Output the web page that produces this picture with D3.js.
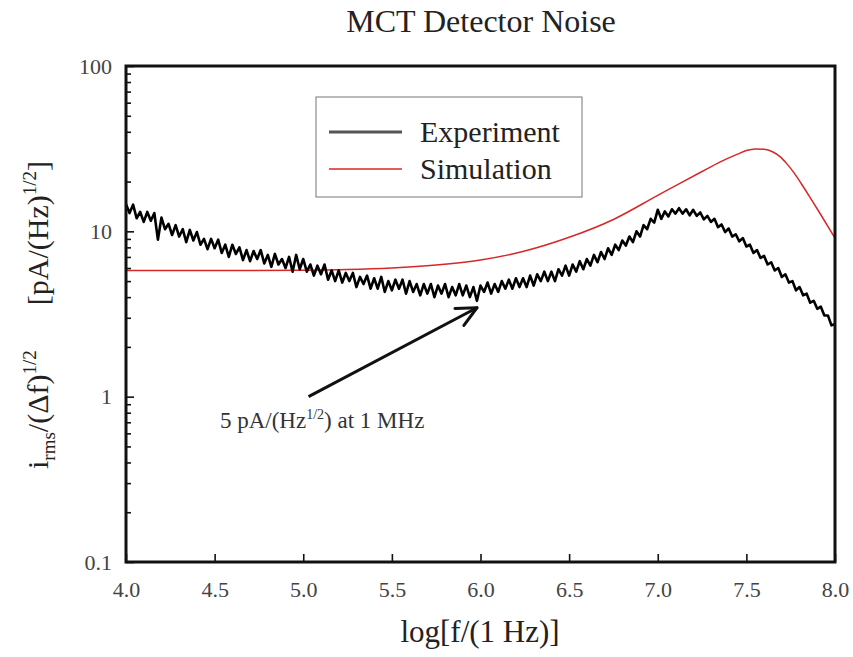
<!DOCTYPE html>
<html>
<head>
<meta charset="utf-8">
<script src="https://cdn.jsdelivr.net/npm/d3@7"></script>
<style>
  html, body { margin: 0; padding: 0; background: #fff; }
  svg { display: block; font-family: "Liberation Serif", "DejaVu Serif", serif; }
</style>
</head>
<body>
<svg id="chart" width="853" height="657"></svg>
<script>
// MCT detector noise: experiment vs simulation (log-log style)

// log10 of frequency, experiment sampled every 0.02
const expStart = 4.0;
const expStep = 0.02;
const expValues = [
  14.6, 12.9, 14.5, 12.0, 13.1,
  11.4, 13.1, 11.6, 12.9, 8.9,
  12.1, 10.3, 11.1, 9.5, 10.9,
  9.3, 10.3, 8.6, 10.2, 8.8,
  9.9, 8.3, 9.0, 7.8, 9.0,
  7.9, 8.9, 7.4, 8.3, 7.0,
  8.3, 7.3, 8.0, 6.7, 7.7,
  6.6, 7.6, 6.8, 7.7, 6.4,
  7.2, 6.1, 7.3, 6.3, 6.8,
  6.0, 7.0, 5.7, 7.2, 5.9,
  6.8, 5.7, 6.3, 5.4, 6.2,
  5.5, 6.3, 5.1, 5.8, 5.0,
  5.8, 4.9, 5.6, 5.0, 5.6,
  4.6, 5.3, 4.8, 5.4, 4.5,
  5.2, 4.5, 5.3, 4.3, 5.0,
  4.4, 5.1, 4.5, 5.1, 4.2,
  5.0, 4.3, 4.8, 4.1, 4.8,
  4.2, 4.8, 4.0, 4.7, 4.2,
  4.8, 4.0, 4.6, 4.1, 4.8,
  4.1, 4.7, 4.0, 4.6, 3.8,
  4.7, 4.3, 4.9, 4.2, 4.8,
  4.3, 5.0, 4.5, 5.1, 4.5,
  5.2, 4.6, 5.2, 4.6, 5.4,
  4.7, 5.5, 5.0, 5.7, 5.0,
  5.7, 5.0, 5.9, 5.4, 6.2,
  5.4, 6.3, 5.7, 6.6, 5.9,
  6.8, 6.2, 7.2, 6.5, 7.5,
  6.8, 7.9, 7.2, 8.3, 7.7,
  8.8, 8.2, 9.3, 8.6, 10.0,
  9.3, 10.9, 10.3, 11.9, 11.3,
  13.5, 11.9, 13.2, 12.3, 13.6,
  12.8, 13.8, 12.8, 13.6, 12.5,
  13.5, 12.4, 13.0, 11.8, 12.4,
  11.4, 11.9, 10.6, 11.0, 9.9,
  10.4, 9.3, 9.6, 8.7, 9.1,
  8.1, 8.3, 7.4, 7.7, 6.9,
  7.1, 6.3, 6.5, 5.8, 6.0,
  5.3, 5.5, 4.9, 5.0, 4.4,
  4.6, 4.1, 4.2, 3.7, 3.8,
  3.4, 3.5, 3.1, 3.1, 2.7,
  2.75
];

const simX = [4.0, 4.5, 5.0, 5.25, 5.5, 5.75, 6.0, 6.25, 6.5, 6.75, 7.0, 7.125,
  7.25, 7.35, 7.45, 7.5, 7.55, 7.6, 7.65, 7.69, 7.73, 7.77, 7.81, 7.86, 7.92, 8.0];
const simValues = [5.8, 5.8, 5.82, 5.87, 6.0, 6.25, 6.7, 7.6, 9.2, 11.8, 16.5, 19.5,
  23.0, 26.2, 29.3, 30.8, 31.5, 31.4, 30.2, 28.3, 25.5, 22.5, 19.4, 16.0, 12.6, 9.1];

const xTicks = [4.0, 4.5, 5.0, 5.5, 6.0, 6.5, 7.0, 7.5, 8.0];
const yTicks = [0.1, 1, 10, 100];
const yTickLabels = ["0.1", "1", "10", "100"];

const seriesNames = ["Experiment", "Simulation"];
const seriesColors = ["#000000", "#d62828"];

const noteText = { pre: "5 pA/(Hz", sup: "1/2", post: ") at 1 MHz" };
const arrowFrom = [5.03, 1.0];
const arrowTo = [5.98, 3.45];
const notePos = [4.53, 0.645];

const W = 853, H = 657;
const margin = { top: 66, right: 18, bottom: 95, left: 126 };
const innerW = W - margin.left - margin.right;
const innerH = H - margin.top - margin.bottom;

const svg = d3.select("#chart");
const g = svg.append("g").attr("transform", `translate(${margin.left},${margin.top})`);

const x = d3.scaleLinear().domain([4, 8]).range([0, innerW]);
const y = d3.scaleLog().domain([0.1, 100]).range([innerH, 0]);

const expData = expValues.map((v, i) => ({ x: expStart + i * expStep, v }));
const simData = simX.map((xv, i) => ({ x: xv, v: simValues[i] }));

// curves
g.append("path")
  .datum(simData)
  .attr("fill", "none")
  .attr("stroke", seriesColors[1])
  .attr("stroke-width", 1.5)
  .attr("d", d3.line().x((d) => x(d.x)).y((d) => y(d.v)).curve(d3.curveMonotoneX));

g.append("path")
  .datum(expData)
  .attr("fill", "none")
  .attr("stroke", seriesColors[0])
  .attr("stroke-width", 2.6)
  .attr("stroke-linejoin", "round")
  .attr("d", d3.line().x((d) => x(d.x)).y((d) => y(d.v)));

// minor y ticks
const minor = [];
[0.1, 1, 10].forEach((dec) => {
  for (let k = 2; k <= 9; k++) minor.push(dec * k);
});

const yAxisG = g.append("g")
  .call(d3.axisLeft(y).tickValues(yTicks).tickFormat((d, i) => yTickLabels[i]).tickSize(-8).tickPadding(14));
g.append("g")
  .call(d3.axisLeft(y).tickValues(minor).tickFormat("").tickSize(-5))
  .select(".domain").remove();

const xAxisG = g.append("g")
  .attr("transform", `translate(0,${innerH})`)
  .call(d3.axisBottom(x).tickValues(xTicks).tickFormat(d3.format(".1f")).tickSize(-8).tickPadding(19));

[yAxisG, xAxisG].forEach((ax) => {
  ax.select(".domain").remove();
  ax.selectAll("text")
    .attr("fill", "#444")
    .style("font-family", "Liberation Serif, serif")
    .style("font-size", "22px");
});
g.selectAll(".tick line").attr("stroke", "#111").attr("stroke-width", 1.6);

// frame
g.append("rect")
  .attr("x", 0).attr("y", 0)
  .attr("width", innerW).attr("height", innerH)
  .attr("fill", "none")
  .attr("stroke", "#111")
  .attr("stroke-width", 3);

// legend
const leg = g.append("g").attr("transform", `translate(${316 - margin.left},${97 - margin.top})`);
leg.append("rect")
  .attr("width", 266).attr("height", 100)
  .attr("fill", "#fff")
  .attr("stroke", "#777")
  .attr("stroke-width", 1);
seriesNames.forEach((name, i) => {
  const yy = 35 + i * 37;
  leg.append("line")
    .attr("x1", 13).attr("x2", 86)
    .attr("y1", yy).attr("y2", yy)
    .attr("stroke", i === 0 ? "#555" : seriesColors[1])
    .attr("stroke-width", i === 0 ? 3 : 1.5);
  leg.append("text")
    .attr("x", 104).attr("y", yy + 10)
    .attr("fill", "#222")
    .style("font-size", "30px")
    .text(name);
});

// annotation arrow
const ax1 = x(arrowFrom[0]), ay1 = y(arrowFrom[1]);
const ax2 = x(arrowTo[0]), ay2 = y(arrowTo[1]);
const ang = Math.atan2(ay2 - ay1, ax2 - ax1);
g.append("line")
  .attr("x1", ax1).attr("y1", ay1).attr("x2", ax2).attr("y2", ay2)
  .attr("stroke", "#111").attr("stroke-width", 3);
[-0.45, 0.45].forEach((da) => {
  g.append("line")
    .attr("x1", ax2).attr("y1", ay2)
    .attr("x2", ax2 - 22 * Math.cos(ang + da))
    .attr("y2", ay2 - 22 * Math.sin(ang + da))
    .attr("stroke", "#111").attr("stroke-width", 3)
    .attr("stroke-linecap", "round");
});

const note = g.append("text")
  .attr("x", x(notePos[0])).attr("y", y(notePos[1]))
  .attr("fill", "#333")
  .style("font-size", "23px");
note.append("tspan").text(noteText.pre);
note.append("tspan").attr("dy", -9).style("font-size", "14px").text(noteText.sup);
note.append("tspan").attr("dy", 9).text(noteText.post);

// title
svg.append("text")
  .attr("x", 481).attr("y", 32)
  .attr("text-anchor", "middle")
  .attr("fill", "#222")
  .style("font-size", "32px")
  .text("MCT Detector Noise");

// x label
svg.append("text")
  .attr("x", 480).attr("y", 642)
  .attr("text-anchor", "middle")
  .attr("fill", "#222")
  .style("font-size", "31px")
  .text("log[f/(1 Hz)]");

// y label
const yl = svg.append("text")
  .attr("transform", `translate(48,315) rotate(-90)`)
  .attr("text-anchor", "middle")
  .attr("fill", "#222")
  .style("font-size", "30px");
yl.append("tspan").text("i");
yl.append("tspan").attr("dy", 7).style("font-size", "19px").text("rms");
yl.append("tspan").attr("dy", -7).text("/(\u0394f)");
yl.append("tspan").attr("dy", -12).style("font-size", "19px").text("1/2");
yl.append("tspan").attr("dy", 12).text("\u00a0\u00a0\u00a0\u00a0\u00a0\u00a0[pA/(Hz)");
yl.append("tspan").attr("dy", -12).style("font-size", "19px").text("1/2");
yl.append("tspan").attr("dy", 12).text("]");
</script>
</body>
</html>
